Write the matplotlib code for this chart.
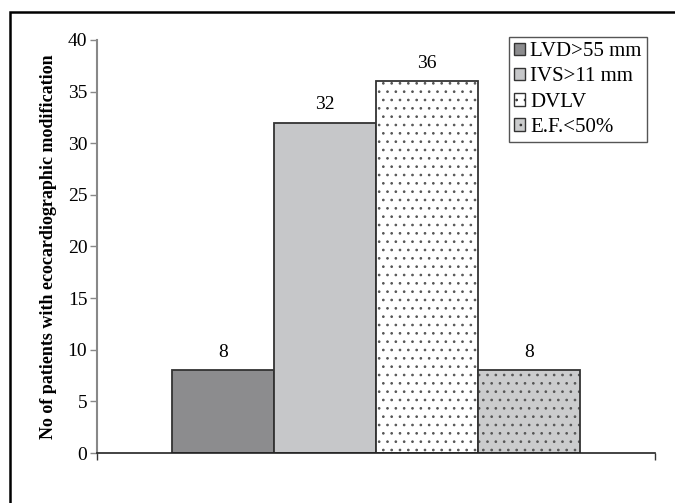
import matplotlib
matplotlib.use("Agg")
import matplotlib.pyplot as plt
from matplotlib.patches import Rectangle

series = ["LVD>55 mm", "IVS>11 mm", "DVLV", "E.F.<50%"]
values = [8, 32, 36, 8]
colors = ["#8c8c8e", "#c6c7c9", "#ffffff", "#cbcccd"]
hatches = [None, None, "..", ".."]
yticks = [0, 5, 10, 15, 20, 25, 30, 35, 40]
ylabel = "No of patients with ecocardiographic modification"

plt.rcParams['font.family'] = ['Liberation Serif', 'DejaVu Serif']
plt.rcParams['hatch.linewidth'] = 0.7

fig = plt.figure(figsize=(6.75, 5.03), dpi=100)
ax = fig.add_axes([97/675, 1-453/503, (655-97)/675, (453-40)/503])

w = 102/558
for i, (s, v, c, h) in enumerate(zip(series, values, colors, hatches)):
    xc = 0.5 + (i - 1.5) * w
    if h:
        ax.bar(xc, v, width=w, color=c, edgecolor="#555555", linewidth=0,
               hatch=h, label=s)
        ax.bar(xc, v, width=w, fill=False, edgecolor="#333333", linewidth=1.3)
    else:
        ax.bar(xc, v, width=w, color=c, edgecolor="#333333", linewidth=1.3,
               label=s)
    ax.annotate(str(v), (xc, v), xytext=(0, 7), textcoords="offset points",
                ha="center", va="bottom", fontsize=14)

ax.set_xlim(0, 1)
ax.set_ylim(0, 40)
ax.set_yticks(yticks)
ax.set_xticks([0, 1])
ax.set_xticklabels([])
ax.tick_params(axis='y', labelsize=14, length=5, width=1, color="#888888", pad=2)
ax.tick_params(axis='x', length=5, width=1, color="#333333")
for sp in ["top", "right"]:
    ax.spines[sp].set_visible(False)
ax.spines["left"].set_color("#888888")
ax.spines["left"].set_linewidth(1.5)
ax.spines["bottom"].set_color("#222222")
ax.spines["bottom"].set_linewidth(1.2)

ax.set_ylabel(ylabel, fontsize=13, fontweight="bold", labelpad=8)

leg = ax.legend(loc="upper right", bbox_to_anchor=(1-(655-647)/558, 1+3/413),
                fontsize=15, frameon=True, fancybox=False, framealpha=1,
                edgecolor="#555555", handlelength=0.55, handleheight=0.55,
                handletextpad=0.25, labelspacing=0.3, borderpad=0.25,
                borderaxespad=0)
leg.get_frame().set_linewidth(1.0)
for p in leg.get_patches():
    p.set_edgecolor("#333333")
    p.set_linewidth(1.0)

fig.patches.append(Rectangle((10/675, -0.05), 1.0, 1 - 12/503 + 0.05,
                             transform=fig.transFigure, fill=False,
                             edgecolor="black", linewidth=1.8))

fig.savefig("out.png", dpi=100)
